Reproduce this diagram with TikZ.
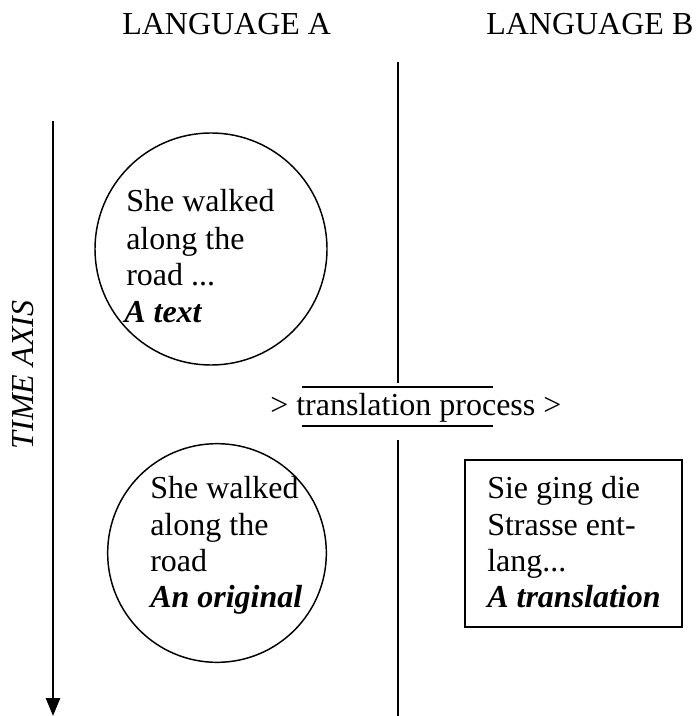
\documentclass[tikz,border=0pt]{standalone}
\usepackage{fontspec}
\setmainfont{Liberation Serif}
\usetikzlibrary{arrows.meta}
\begin{document}
\begin{tikzpicture}[x=0.75pt,y=-0.75pt,
  txt/.style={anchor=base west, inner sep=0pt, font=\fontsize{24}{28}\selectfont},
  tag/.style={txt, font=\fontsize{24}{28}\selectfont\bfseries\itshape},
  bubble/.style={circle, draw, line width=1.1pt, inner sep=0pt},
  frame/.style={draw, line width=1.1pt},
  rule/.style={line width=1.5pt}]
\useasboundingbox (0,0) rectangle (696,716);

% column headings
\node[txt] (langA) at (122,35) {LANGUAGE A};
\node[txt] (langB) at (486,35) {LANGUAGE B};

% time axis
\coordinate (ttop) at (53,121);
\coordinate (tbot) at (53,716);
\draw[line width=2pt, -{Triangle[length=13.5pt,width=10.5pt]}] (ttop) -- (tbot);
\node[rotate=90, anchor=base, inner sep=0pt,
      font=\fontsize{24}{28}\selectfont\itshape] (timeaxis) at (33,375) {TIME AXIS};

% divider between the two languages
\coordinate (divtop) at (398,62);
\coordinate (divup) at (398,383);
\coordinate (divlow) at (398,440);
\coordinate (divbot) at (398,716);
\draw[rule] (divtop) -- (divup);
\draw[rule] (divlow) -- (divbot);

% translation process
\node[txt] (proc) at (270,415) {> translation process >};
\coordinate (ula) at (302,387);
\coordinate (ulb) at (493,387);
\coordinate (lla) at (302,426);
\coordinate (llb) at (493,426);
\draw[rule] (ula) -- (ulb);
\draw[rule] (lla) -- (llb);

% the text
\node[bubble, minimum size=174pt] (textcirc) at (211,249) {};
\node[txt] (t1) at (126,212) {She walked};
\node[txt] (t2) at (126,249) {along the};
\node[txt] (t3) at (126,286) {road ...};
\node[tag] (t4) at (124,322) {A text};

% the original
\node[bubble, minimum size=164pt] (origcirc) at (217,553) {};
\node[txt] (o1) at (150,498) {She walked};
\node[txt] (o2) at (150,535) {along the};
\node[txt] (o3) at (150,571) {road};
\node[tag] (o4) at (150,607) {An original};

% the translation
\coordinate (boxa) at (465,460);
\coordinate (boxb) at (682,627);
\draw[frame] (boxa) rectangle (boxb);
\node[txt] (b1) at (487,498) {Sie ging die};
\node[txt] (b2) at (487,535) {Strasse ent-};
\node[txt] (b3) at (487,571) {lang...};
\node[tag] (b4) at (487,607) {A translation};
\end{tikzpicture}
\end{document}
